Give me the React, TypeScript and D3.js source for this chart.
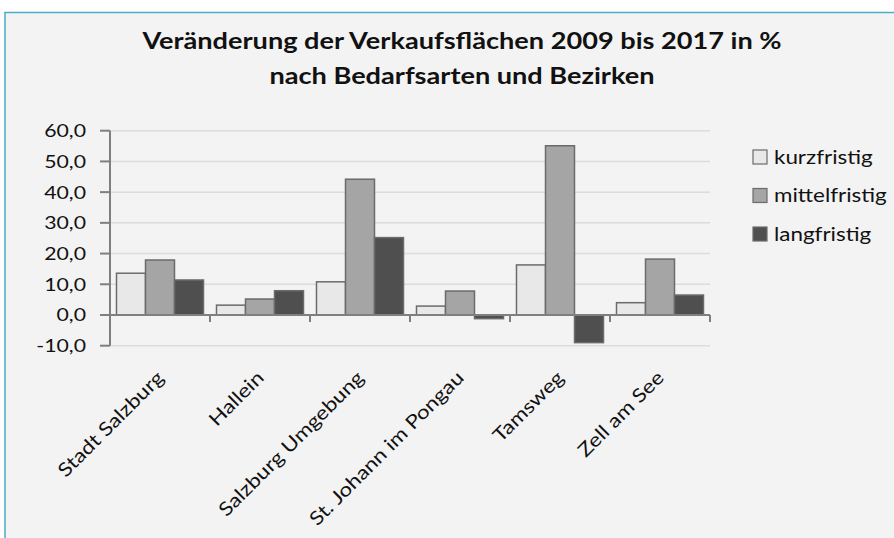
import React from "react";
import * as d3 from "d3";

const categories = ["Stadt Salzburg", "Hallein", "Salzburg Umgebung", "St. Johann im Pongau", "Tamsweg", "Zell am See"];
const seriesNames = ["kurzfristig", "mittelfristig", "langfristig"];
const kurzfristig = [13.6, 3.2, 10.8, 2.9, 16.3, 4.0];
const mittelfristig = [17.9, 5.2, 44.2, 7.8, 55.1, 18.2];
const langfristig = [11.4, 7.9, 25.2, -1.2, -9.0, 6.5];
const yTicks = [-10, 0, 10, 20, 30, 40, 50, 60];
const titleLines = ["Veränderung der Verkaufsflächen 2009 bis 2017 in %", "nach Bedarfsarten und Bezirken"];

const colors = ["#e8e8e8", "#a5a5a5", "#4f4f4f"];
const seriesValues = [kurzfristig, mittelfristig, langfristig];
const FONT = "Lato, 'Open Sans', sans-serif";
const SX = 1.18;

export default function App() {
  const W = 894, H = 538;
  const x0 = 110, x1 = 710;
  const y = d3.scaleLinear().domain([-10, 60]).range([345.7, 130.7]);
  const x = d3.scaleBand<string>().domain(categories).range([x0, x1]).paddingInner(0.13).paddingOuter(0.065);
  const xs = d3.scaleBand<string>().domain(seriesNames).range([0, x.bandwidth()]);
  const step = x.step();
  const zeroY = y(0);
  const fmt = (v: number) => d3.format(".1f")(v).replace(".", ",").replace("−", "-");

  return (
    <svg width={W} height={H} style={{ position: "absolute", left: 0, top: 0, fontFamily: FONT }}>
      <rect x={0} y={0} width={W} height={H} fill="#ffffff" />
      <rect x={5} y={12.5} width={W + 10} height={H + 10} fill="#f3f3f3" stroke="#4bacc6" strokeWidth={1.5} />
      {titleLines.map((t, i) => (
        <text key={i} transform={`translate(462,${49 + i * 35}) scale(${SX},1)`} textAnchor="middle" fontSize={23} fontWeight="bold" fill="#111">{t}</text>
      ))}
      {yTicks.map((t) => (
        <g key={t}>
          <line x1={x0} x2={x1} y1={y(t)} y2={y(t)} stroke="#dcdcdc" strokeWidth={1.5} />
          <line x1={100} x2={x0} y1={y(t)} y2={y(t)} stroke="#7f7f7f" strokeWidth={2} />
          <text transform={`translate(86,${y(t) + 6.5}) scale(${SX},1)`} textAnchor="end" fontSize={18} fill="#111">{fmt(t)}</text>
        </g>
      ))}
      {categories.map((c, ci) => (
        <g key={c} transform={`translate(${x(c)},0)`}>
          {seriesNames.map((s, si) => {
            const v = seriesValues[si][ci];
            const top = Math.min(y(v), zeroY);
            const h = Math.abs(y(v) - zeroY);
            return <rect key={s} x={xs(s)} y={top} width={xs.bandwidth()} height={h} fill={colors[si]} stroke="#6b6b6b" strokeWidth={1.5} />;
          })}
        </g>
      ))}
      <line x1={x0} x2={x0} y1={y(60)} y2={y(-10)} stroke="#7f7f7f" strokeWidth={2} />
      <line x1={x0} x2={x1} y1={zeroY} y2={zeroY} stroke="#7f7f7f" strokeWidth={2} />
      {d3.range(categories.length + 1).map((i) => (
        <line key={i} x1={x0 + i * step} x2={x0 + i * step} y1={zeroY} y2={zeroY + 7} stroke="#7f7f7f" strokeWidth={2} />
      ))}
      {categories.map((c) => {
        const cx = (x(c) as number) + x.bandwidth() / 2;
        return (
          <text key={c} transform={`translate(${cx + 5},${379}) rotate(-45) scale(${SX},1)`} textAnchor="end" fontSize={19} fill="#111">{c}</text>
        );
      })}
      {seriesNames.map((s, i) => (
        <g key={s} transform={`translate(753,${157 + i * 38.5})`}>
          <rect x={0} y={-7} width={14} height={14} fill={colors[i]} stroke="#6b6b6b" strokeWidth={1.2} />
          <text transform={`translate(21,6.5) scale(${SX},1)`} fontSize={19} fill="#111">{s}</text>
        </g>
      ))}
    </svg>
  );
}
